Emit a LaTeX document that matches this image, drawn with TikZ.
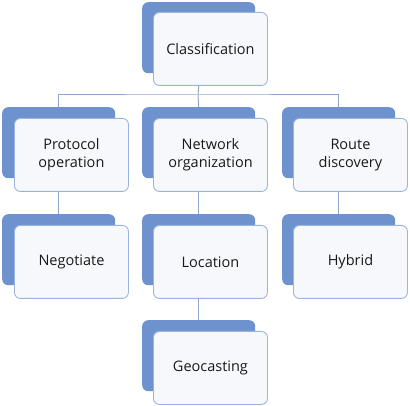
\documentclass[tikz,border=0pt]{standalone}
\usepackage{fontspec}
\setmainfont{Open Sans}
\begin{document}
\begin{tikzpicture}[x=1pt,y=-1pt,
  backbox/.style={draw=none,fill=backblue,rounded corners=6pt,minimum width=113pt,minimum height=71pt,anchor=north west,inner sep=0pt},
  frontbox/.style={draw=edgeblue,line width=0.9pt,fill=frontfill,rounded corners=6pt,minimum width=114pt,minimum height=73pt,anchor=north west,inner sep=0pt,text width=112pt,align=center,font=\fontsize{14.5}{18.5}\selectfont,text=black!90},
  link/.style={draw=linkblue,line width=1pt}]
\definecolor{backblue}{HTML}{6D92CE}
\definecolor{edgeblue}{HTML}{9BB4DF}
\definecolor{frontfill}{HTML}{F6F8FC}
\definecolor{linkblue}{HTML}{8FA8C9}
\useasboundingbox (0,0) rectangle (410,406);
% row 0
\node[backbox] (clsB) at (142,2) {};
\node[frontbox] (clsF) at (153,12) {Classification};
% row 1
\node[backbox] (proB) at (2,107) {};
\node[frontbox] (proF) at (14,118) {Protocol\\operation};
\node[backbox] (netB) at (142,107) {};
\node[frontbox] (netF) at (153,118) {Network\\organization};
\node[backbox] (rouB) at (282,107) {};
\node[frontbox] (rouF) at (293,118) {Route\\discovery};
% row 2
\node[backbox] (negB) at (2,214) {};
\node[frontbox] (negF) at (14,225) {Negotiate};
\node[backbox] (locB) at (142,214) {};
\node[frontbox] (locF) at (153,225) {Location};
\node[backbox] (hybB) at (282,214) {};
\node[frontbox] (hybF) at (293,225) {Hybrid};
% row 3
\node[backbox] (geoB) at (142,320) {};
\node[frontbox] (geoF) at (153,331) {Geocasting};
% connectors
\coordinate (bus) at (198,95);
\draw[link] (clsF.south -| clsB.center) -- (bus);
\draw[link] (proB.north) |- (bus) -| (rouB.north);
\draw[link] (bus) -- (netB.north);
\draw[link] (proF.south -| proB.center) -- (negB.north);
\draw[link] (netF.south -| netB.center) -- (locB.north);
\draw[link] (rouF.south -| rouB.center) -- (hybB.north);
\draw[link] (locF.south -| locB.center) -- (geoB.north);
\end{tikzpicture}
\end{document}
